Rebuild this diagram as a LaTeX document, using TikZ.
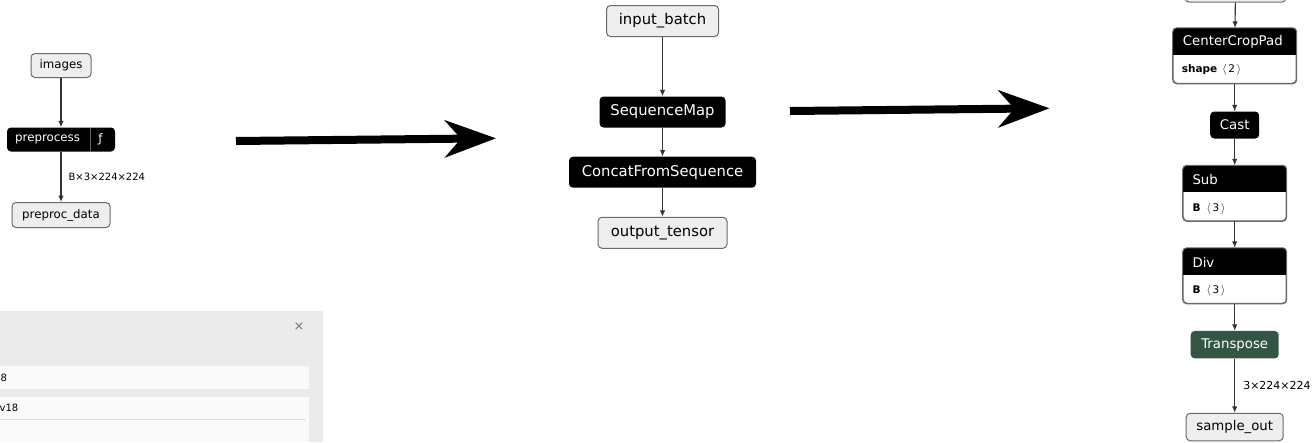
\documentclass[tikz,border=0pt]{standalone}
\usepackage{fontspec}
\setmainfont{DejaVu Sans}
\usetikzlibrary{arrows.meta}
\definecolor{nodegray}{HTML}{EEEEEE}
\definecolor{bordergray}{HTML}{6A6A6A}
\definecolor{edgegray}{HTML}{333333}
\definecolor{transgreen}{HTML}{335544}
\definecolor{panelgray}{HTML}{EBEBEB}
\definecolor{rowwhite}{HTML}{FAFAFA}
\newcommand{\attrbr}[1]{$\langle$\hspace{1.8pt}#1\hspace{1.8pt}$\rangle$}
\begin{document}
\begin{tikzpicture}[x=1pt,y=-1pt,
  io/.style={draw=bordergray, fill=nodegray, rounded corners=4pt, line width=1pt, inner sep=0pt, text=black},
  op/.style={fill=black, rounded corners=4pt, inner sep=0pt, text=white},
  tbl/.style={draw=bordergray, fill=white, rounded corners=4pt, line width=1pt, inner sep=0pt},
  edge/.style={draw=edgegray, line width=1.1pt, -{Latex[length=6.5pt,width=5.5pt]}},
  lab/.style={inner sep=0pt, anchor=west, text=black},
  attr/.style={inner sep=0pt, anchor=west, font=\fontsize{10.5}{12}\selectfont},
  bigarrow/.style={line width=8pt, -{Stealth[length=51pt,width=37pt,inset=16pt]}}
]
\useasboundingbox (0,0) rectangle (1314,442);
\clip (0,0) rectangle (1314,442);

% ---------------- left graph ----------------
\begin{scope}[font=\fontsize{11.8}{14}\selectfont]
\node[io, minimum width=60pt, minimum height=24pt] (images) at (61,65.5) {images};
\node[op, minimum width=108pt, minimum height=24pt] (pre) at (61,139.5) {};
\node[inner sep=0pt, text=white, anchor=west] (pretxt) at (15,139.5) {preprocess};
\node[inner sep=0pt, text=white] (pref) at (100.5,139.5) {ƒ};
\draw[white!40!black, line width=0.8pt] (90.7,127.5) -- (90.7,151.5);
\node[io, minimum width=98pt, minimum height=25pt] (pdata) at (61,215) {preproc\_data};
\draw[edge] (images) -- (pre);
\draw[edge] (pre) -- node[lab, xshift=7pt, font=\fontsize{10}{12}\selectfont] {B×3×224×224} (pdata);
\end{scope}

% ---------------- properties panel ----------------
\fill[panelgray] (0,311) rectangle (322.5,442);
\node[text=black!55, font=\fontsize{13}{14}\selectfont] (closex) at (299,327) {×};
\fill[rowwhite] (0,365.7) rectangle (309,389.3);
\fill[rowwhite] (0,396.7) rectangle (309,442);
\draw[black!12, line width=0.6pt] (0,419.3) -- (306,419.3);
\node[lab, font=\fontsize{10}{12}\selectfont] (row1) at (0.5,377.5) {8};
\node[lab, font=\fontsize{10}{12}\selectfont] (row2) at (-0.5,408.3) {v18};

% ---------------- big arrows ----------------
\coordinate (a1s) at (236,141);
\coordinate (a1e) at (496,138.3);
\draw[bigarrow] (a1s) -- (a1e);
\coordinate (a2s) at (790,111);
\coordinate (a2e) at (1049.5,108.3);
\draw[bigarrow] (a2s) -- (a2e);

% ---------------- middle graph ----------------
\begin{scope}[font=\fontsize{14.8}{17}\selectfont]
\node[io, minimum width=112pt, minimum height=31pt] (inb) at (662.5,21) {input\_batch};
\node[op, minimum width=126pt, minimum height=31pt] (smap) at (662.5,112) {SequenceMap};
\node[op, minimum width=187pt, minimum height=31pt] (cfs) at (662.5,172.2) {ConcatFromSequence};
\node[io, minimum width=129pt, minimum height=31pt] (outt) at (662.5,232.8) {output\_tensor};
\draw[edge] (inb) -- (smap);
\draw[edge] (smap) -- (cfs);
\draw[edge] (cfs) -- (outt);
\end{scope}

% ---------------- right graph ----------------
\begin{scope}[font=\fontsize{13.3}{16}\selectfont]
\node[io, minimum width=101pt, minimum height=28pt] (topn) at (1235.5,-12) {};
% CenterCropPad
\node[tbl, minimum width=123pt, minimum height=55pt] (ccp) at (1234.7,55.8) {};
\begin{scope}
\clip[rounded corners=4pt] (ccp.north west) rectangle (ccp.south east);
\fill[black] (ccp.north west) rectangle ([yshift=-26.7pt]ccp.north east);
\end{scope}
\draw[draw=bordergray, line width=1pt, rounded corners=4pt] (ccp.north west) rectangle (ccp.south east);
\node[inner sep=0pt, text=white, anchor=west] (ccpt) at (1182.7,42) {CenterCropPad};
\node[attr] (ccpa) at (1181.7,70) {\textbf{shape}\hspace{5pt}\attrbr{2}};
% Cast
\node[op, minimum width=49pt, minimum height=27pt] (cast) at (1234.7,125) {Cast};
% Sub
\node[tbl, minimum width=103pt, minimum height=55pt] (sub) at (1234.7,193.3) {};
\begin{scope}
\clip[rounded corners=4pt] (sub.north west) rectangle (sub.south east);
\fill[black] (sub.north west) rectangle ([yshift=-27pt]sub.north east);
\end{scope}
\draw[draw=bordergray, line width=1pt, rounded corners=4pt] (sub.north west) rectangle (sub.south east);
\node[inner sep=0pt, text=white, anchor=west] (subt) at (1192.3,179.5) {Sub};
\node[attr] (suba) at (1192.3,208.5) {\textbf{B}\hspace{6pt}\attrbr{3}};
% Div
\node[tbl, minimum width=103pt, minimum height=55pt] (div) at (1234.7,275.8) {};
\begin{scope}
\clip[rounded corners=4pt] (div.north west) rectangle (div.south east);
\fill[black] (div.north west) rectangle ([yshift=-27pt]div.north east);
\end{scope}
\draw[draw=bordergray, line width=1pt, rounded corners=4pt] (div.north west) rectangle (div.south east);
\node[inner sep=0pt, text=white, anchor=west] (divt) at (1192.3,262) {Div};
\node[attr] (diva) at (1192.3,291) {\textbf{B}\hspace{6pt}\attrbr{3}};
% Transpose
\node[fill=transgreen, rounded corners=4pt, inner sep=0pt, text=white, minimum width=88pt, minimum height=27.5pt] (trans) at (1234.7,344.7) {Transpose};
% sample_out
\node[io, minimum width=97pt, minimum height=27.5pt] (sout) at (1234.7,427) {sample\_out};
\draw[edge] (topn) -- (ccp);
\draw[edge] (ccp) -- (cast);
\draw[edge] (cast) -- (sub);
\draw[edge] (sub) -- (div);
\draw[edge] (div) -- (trans);
\draw[edge] (trans) -- node[lab, xshift=8pt, font=\fontsize{11}{13}\selectfont] {3×224×224} (sout);
\end{scope}
\end{tikzpicture}
\end{document}
